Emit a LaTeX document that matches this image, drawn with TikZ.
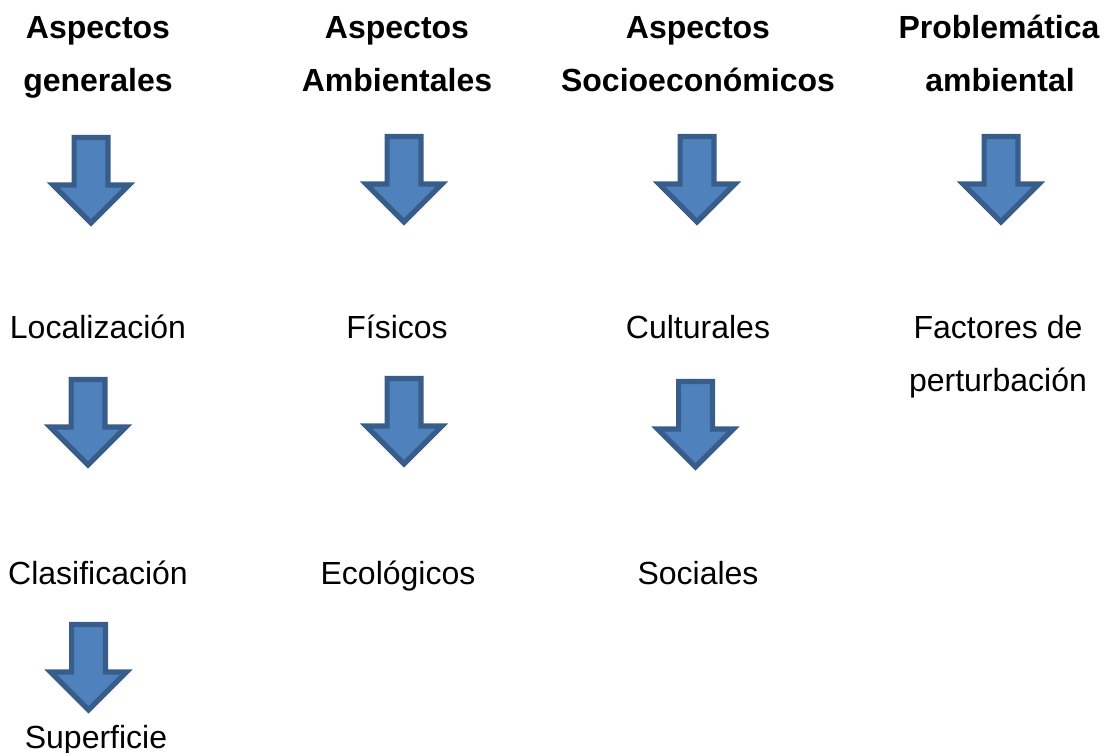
\documentclass[tikz,border=0pt]{standalone}
\usepackage{fontspec}
\setmainfont{Liberation Sans}
\definecolor{arrowfill}{HTML}{4F81BD}
\definecolor{arrowline}{HTML}{385D8A}
\tikzset{
  heading/.style={font=\bfseries\fontsize{16}{19}\selectfont, inner sep=0pt, anchor=base},
  item/.style={font=\fontsize{16}{19}\selectfont, inner sep=0pt, anchor=base},
  arrowbody/.style={fill=arrowfill, draw=arrowline, line width=2.6pt, line join=miter},
  pics/downarrow/.style={code={
    \draw[arrowbody] (-16.9,2.6) -- (16.9,2.6) -- (16.9,50) -- (37.9,50)
      -- (0,87.9) -- (-37.9,50) -- (-16.9,50) -- cycle;
  }}
}
\begin{document}
\begin{tikzpicture}[x=0.5pt,y=-0.5pt]
  \useasboundingbox (0,0) rectangle (1105,753);

  % headings
  \node[heading](hgen1) at (98,39){Aspectos};
  \node[heading](hgen2) at (98,92){generales};
  \node[heading](hamb1) at (397,39){Aspectos};
  \node[heading](hamb2) at (397,92){Ambientales};
  \node[heading](hsoc1) at (698,39){Aspectos};
  \node[heading](hsoc2) at (698,92){Socioeconómicos};
  \node[heading](hpro1) at (999,39){Problemática};
  \node[heading](hpro2) at (1000,92){ambiental};

  % items
  \node[item](loc) at (98,339){Localización};
  \node[item](cla) at (98,584.5){Clasificación};
  \node[item](sup) at (96,749){Superficie};
  \node[item](fis) at (397,339){Físicos};
  \node[item](eco) at (398,584.5){Ecológicos};
  \node[item](cul) at (698,339){Culturales};
  \node[item](soc) at (698,584.5){Sociales};
  \node[item](fac1) at (998,339){Factores de};
  \node[item](fac2) at (998,392){perturbación};

  % arrows
  \pic (a1) at (91,135) {downarrow};
  \pic (a2) at (88,377) {downarrow};
  \pic (a3) at (88.5,622) {downarrow};
  \pic (a4) at (404,134) {downarrow};
  \pic (a5) at (404,376) {downarrow};
  \pic (a6) at (697,134) {downarrow};
  \pic (a7) at (695.5,379) {downarrow};
  \pic (a8) at (1001,134) {downarrow};
\end{tikzpicture}
\end{document}
